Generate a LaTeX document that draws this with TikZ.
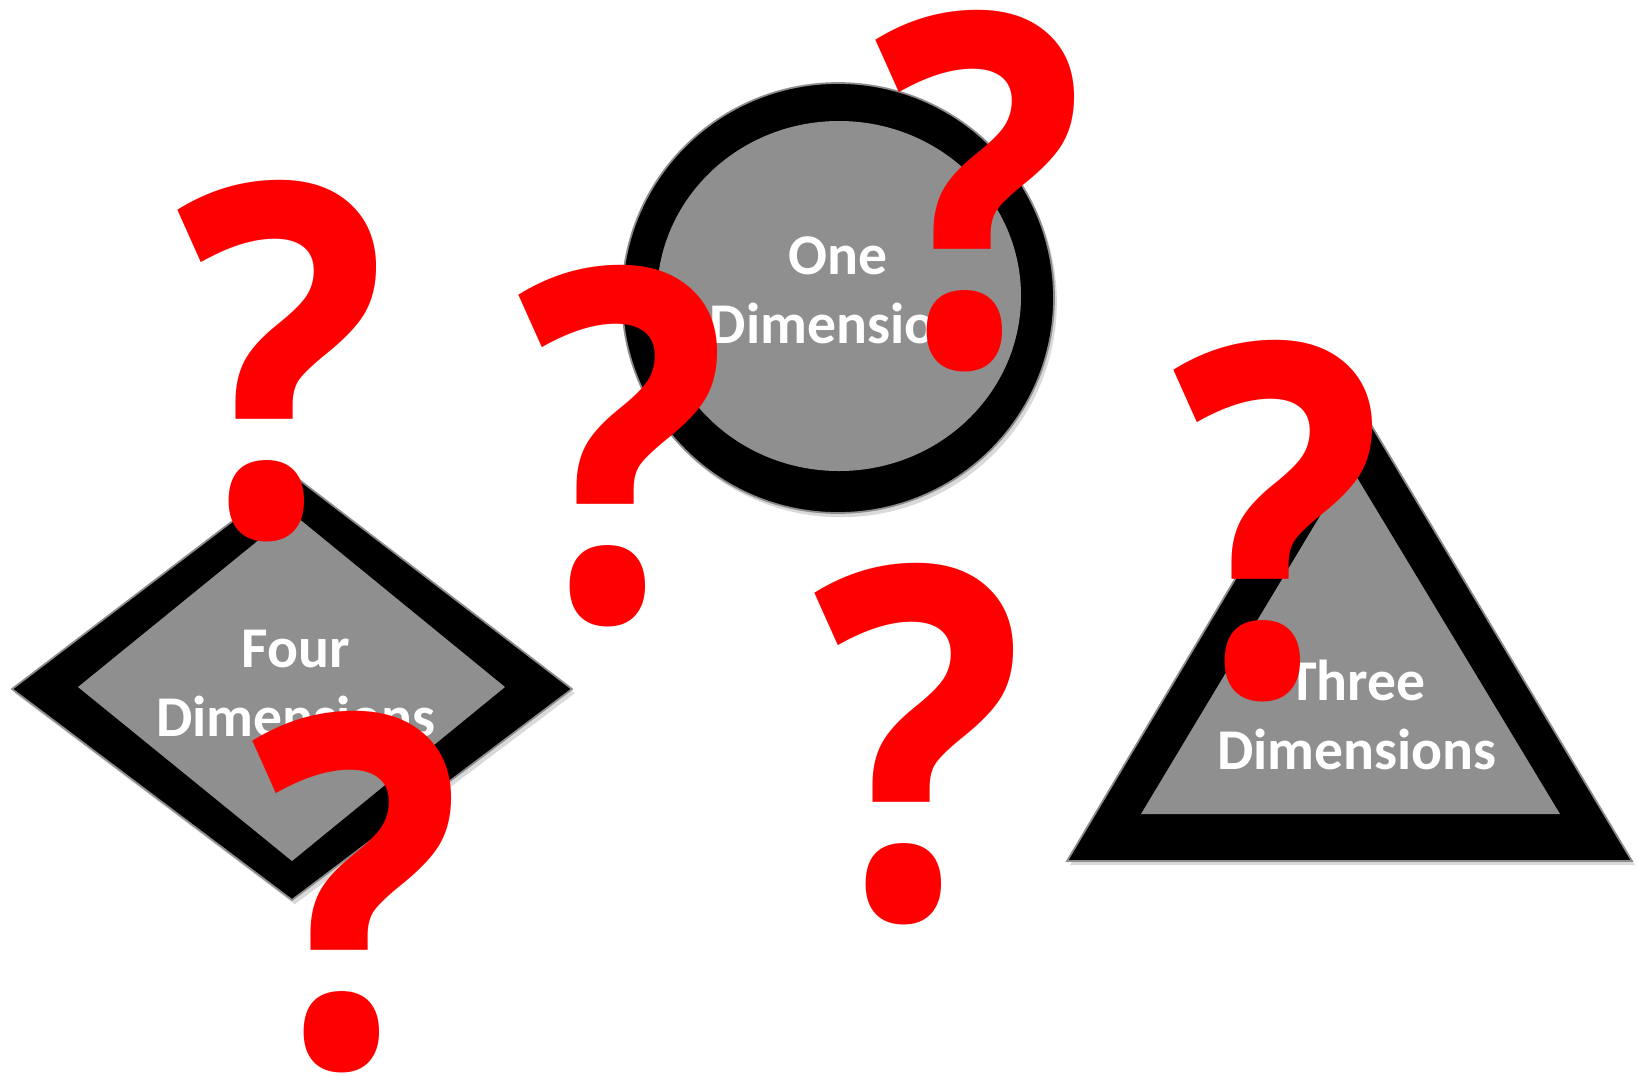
\documentclass[tikz,border=0pt]{standalone}
\usepackage{fontspec}
\setmainfont{Carlito}
\newfontfamily\qfont{Open Sans}
\usetikzlibrary{shadows, positioning}
\definecolor{qred}{RGB}{255,0,0}
\definecolor{shapegray}{RGB}{143,143,143}
\definecolor{edgegray}{RGB}{140,140,140}

\begin{document}
\begin{tikzpicture}[
    x=0.01cm, y=-0.01cm,
    outer/.style={fill=black, draw=edgegray, line width=0.5pt,
                  drop shadow={shadow xshift=0.8pt, shadow yshift=-1.2pt, opacity=0.3}},
    inner/.style={fill=shapegray},
    dimlabel/.style={font=\fontsize{16.4}{19.6}\selectfont\bfseries, text=white,
                     align=center, inner sep=0pt, anchor=base},
    qmark/.style={font=\qfont\fontsize{139.5}{139.5}\selectfont\bfseries, text=qred,
                  inner sep=0pt, anchor=south, xscale=0.9}
]
\useasboundingbox (0,0) rectangle (1637,1075);

% --- One Dimension (circle) ---
\path[outer] (838,298) ellipse [x radius=216, y radius=215];
\path[inner] (839,296) ellipse [x radius=182, y radius=175];
\node[dimlabel] (one) at (838,343) {One\\Dimension};

% --- Four Dimensions (diamond) ---
\path[outer] (12,689) -- (293,475) -- (572,689) -- (292,900) -- cycle;
\path[inner] (78,687) -- (292,513) -- (505,687) -- (292,861) -- cycle;
\node[dimlabel] (four) at (296,736) {Four\\Dimensions};

% --- Three Dimensions (triangle) ---
\path[outer] (1067,861) -- (1349,388) -- (1632,861) -- cycle;
\path[inner] (1141,814) -- (1350,466) -- (1560,814) -- cycle;
\node[dimlabel] (three) at (1357,769) {Three\\Dimensions};

% --- question marks ---
\node[qmark] (qleft)   at (282,543)  {?};
\node[qmark] (qmid)    at (623,628)  {?};
\node[qmark] (qtop)    at (980,373)  {?};
\node[qmark] (qlow)    at (919,926)  {?};
\node[qmark] (qright)  at (1278,703) {?};
\node[qmark] (qbottom) at (357,1074) {?};

\end{tikzpicture}
\end{document}
